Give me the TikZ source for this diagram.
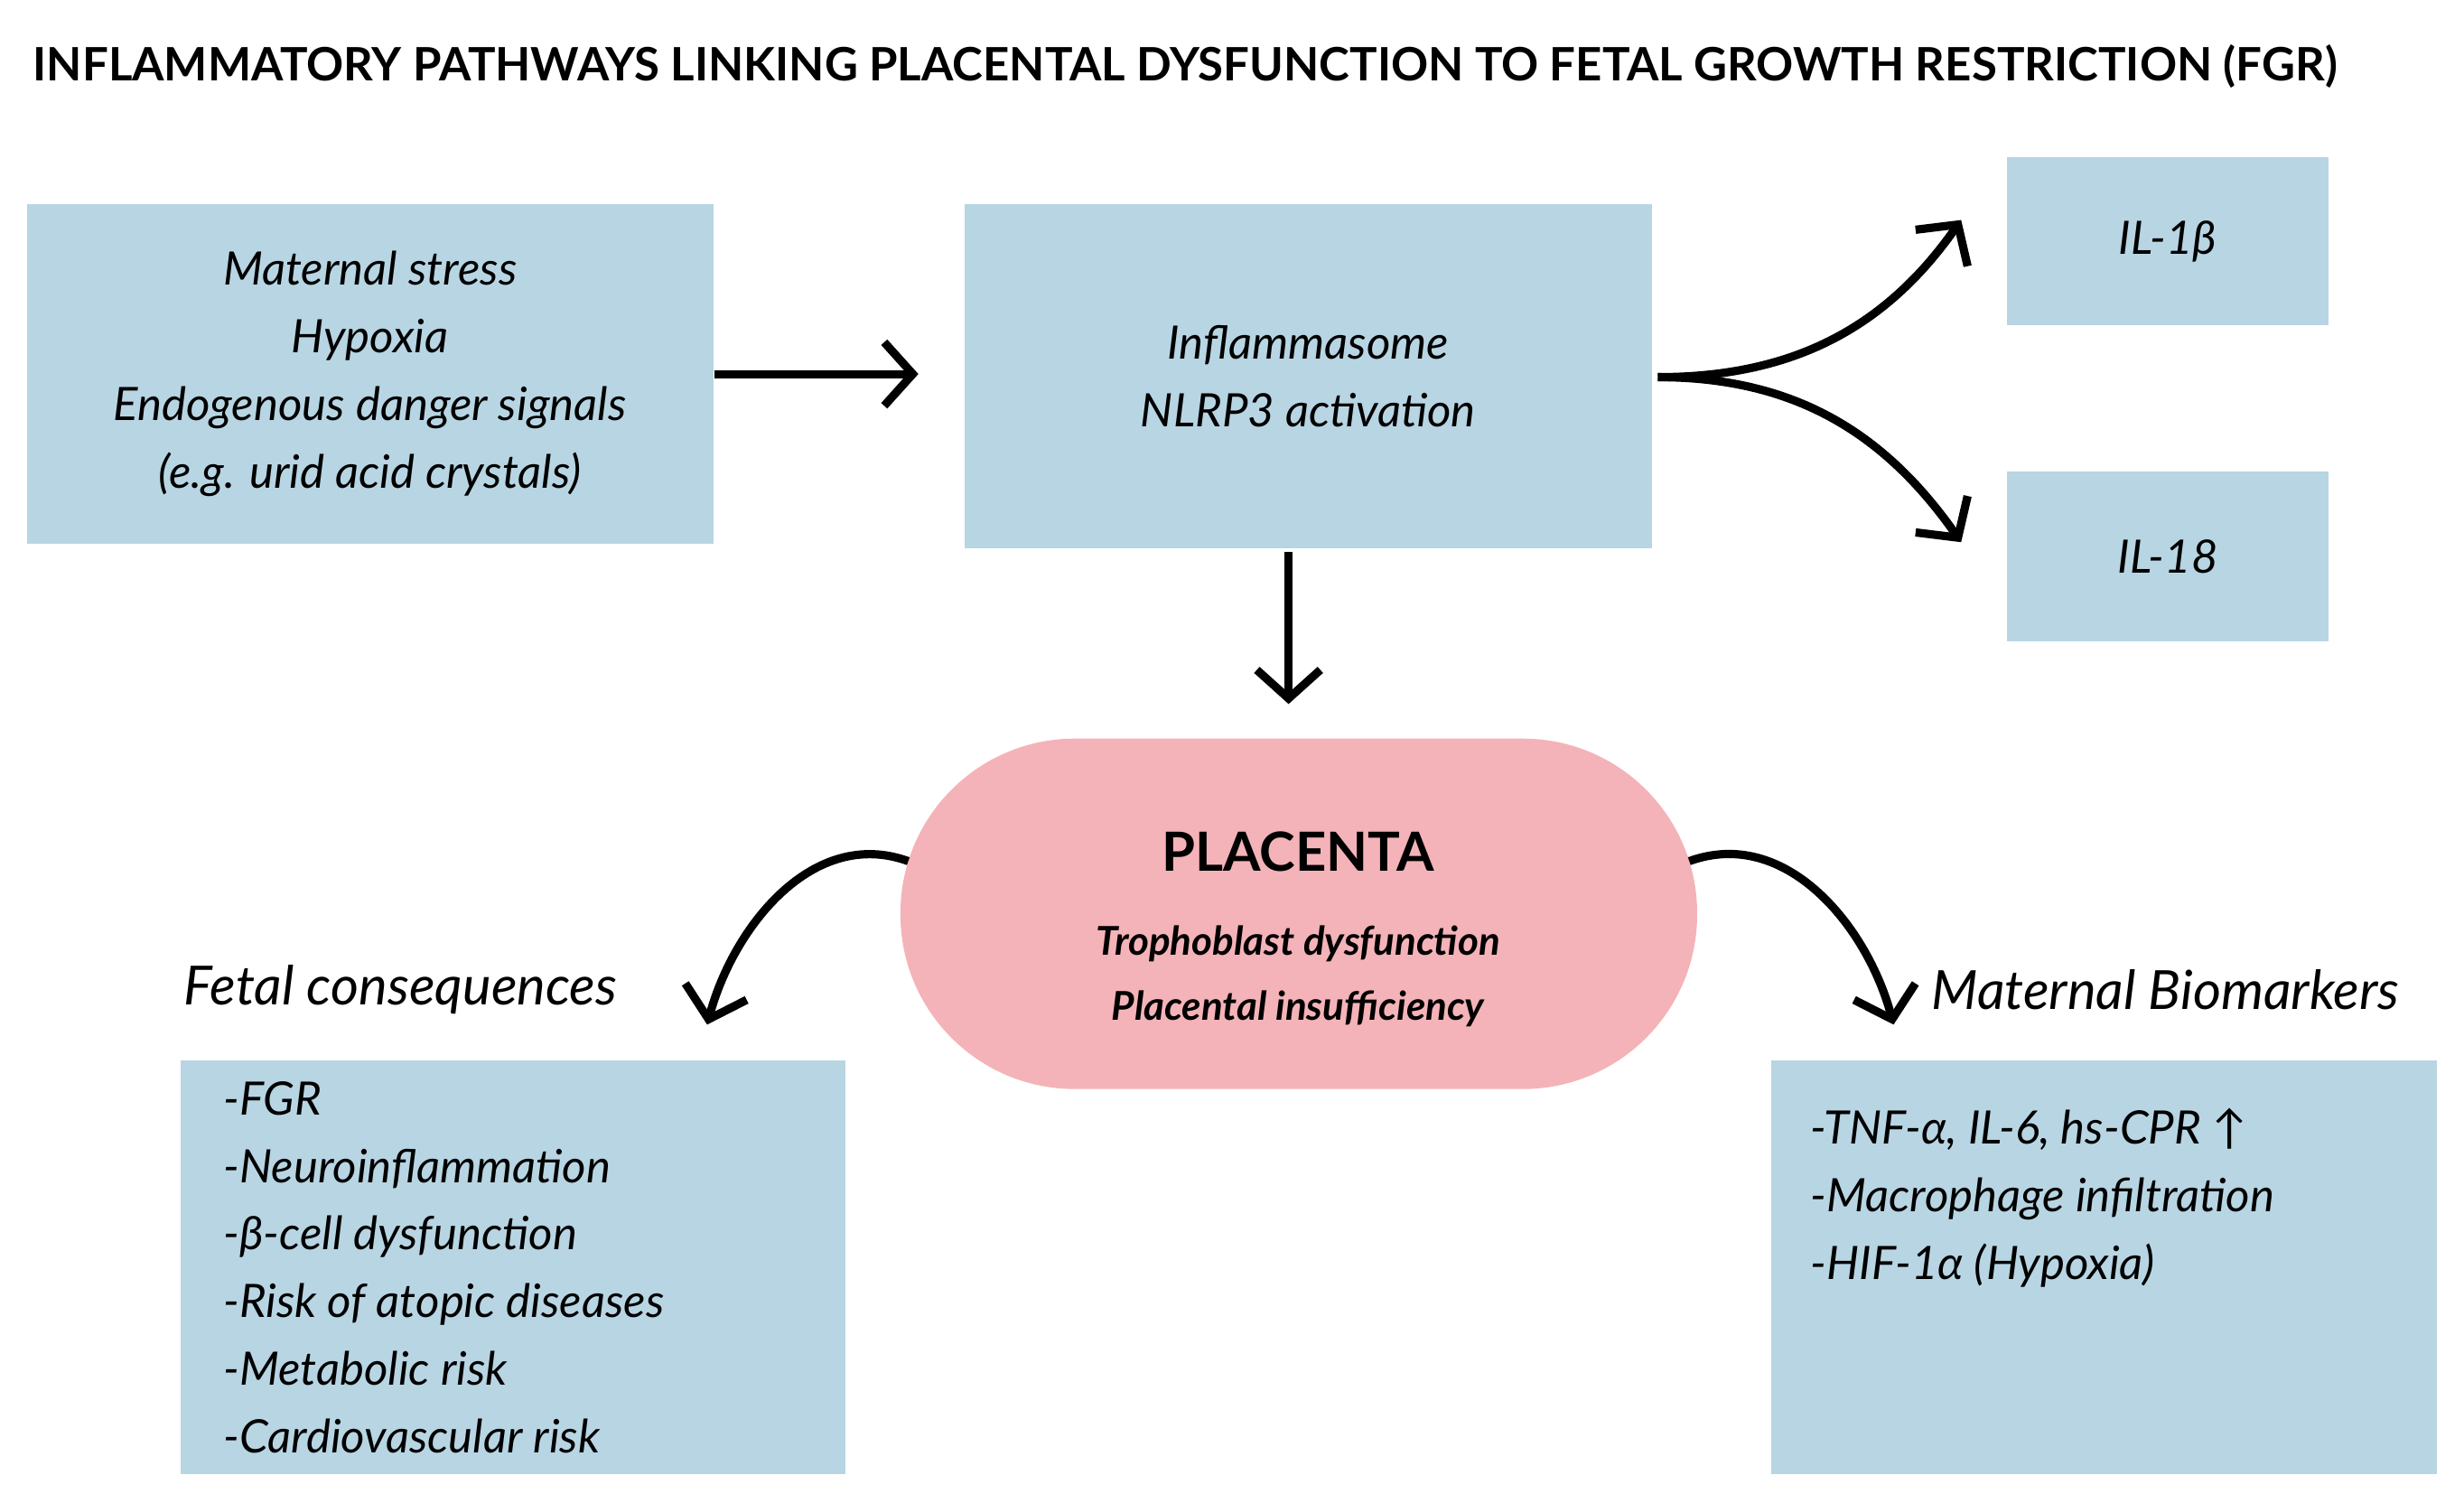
\documentclass[tikz,border=0pt]{standalone}
\usepackage{fontspec}
\setmainfont{Lato}
\usetikzlibrary{arrows.meta,positioning}
\definecolor{boxblue}{HTML}{B8D5E3}
\definecolor{pillpink}{HTML}{F4B3B8}
\begin{document}
\begin{tikzpicture}[x=0.0174cm,y=-0.0174cm,
    >={Straight Barb[length=9pt,width=20pt,line width=2.6pt]},
    every node/.style={font=\fontsize{14.5}{21.3}\selectfont\itshape},
    box/.style={fill=boxblue,draw=none,inner sep=0pt},
    arr/.style={->,line width=2.6pt}]
  \useasboundingbox (0,0) rectangle (1568,956);

  \node[anchor=west,font=\fontsize{14.5}{18}\selectfont\bfseries] (title) at (14,42)
    {INFLAMMATORY PATHWAYS LINKING PLACENTAL DYSFUNCTION TO FETAL GROWTH RESTRICTION (FGR)};

  \node[box,minimum width=437*0.0174cm,minimum height=216*0.0174cm,align=center] (trig) at (235.5,238)
    {Maternal stress\\Hypoxia\\Endogenous danger signals\\(e.g. urid acid crystals)};
  \node[box,minimum width=437*0.0174cm,minimum height=219*0.0174cm,align=center] (nlrp) at (832.5,239.5)
    {Inflammasome\\NLRP3 activation};
  \node[box,minimum width=205*0.0174cm,minimum height=107*0.0174cm] (ilb) at (1379.5,153.5) {IL-1β};
  \node[box,minimum width=205*0.0174cm,minimum height=108*0.0174cm] (ilc) at (1379.5,354) {IL-18};

  \node[fill=pillpink,rounded corners=111*0.0174cm,minimum width=507*0.0174cm,
        minimum height=223*0.0174cm,align=center] (plac) at (826.5,581.5)
    {\vphantom{x}};
  \node[font=\fontsize{17}{20}\selectfont\bfseries] (plact) at (826,542) {PLACENTA};
  \node[font=\fontsize{12.5}{20.5}\selectfont\bfseries\itshape,align=center,below=10pt of plact] (placs)
    {Trophoblast dysfunction\\Placental insufficiency};

  \node[font=\fontsize{17}{20}\selectfont\itshape,anchor=west] (fetal) at (110,630) {Fetal consequences};
  \node[font=\fontsize{17}{20}\selectfont\itshape,anchor=west] (mat) at (1222,630) {Maternal Biomarkers};

  \node[box,minimum width=423*0.0174cm,minimum height=263*0.0174cm] (fbox) at (326.5,806.5) {};
  \node[anchor=north west,align=left] (flist) at (135,681)
    {-FGR\\-Neuroinflammation\\-β-cell dysfunction\\-Risk of atopic diseases\\-Metabolic risk\\-Cardiovascular risk};
  \node[box,minimum width=424*0.0174cm,minimum height=263*0.0174cm] (mbox) at (1339,806.5) {};
  \node[anchor=north west,align=left] (mlist) at (1145,698)
    {-TNF-α, IL-6, hs-CPR ↑\\-Macrophage infiltration\\-HIF-1α (Hypoxia)};

  \coordinate (fork) at (1055,240);
  \draw[arr] (trig.east) -- ++(130,0) coordinate (a1);
  \draw[arr] (fork) to[out=0,in=235] (1248,140);
  \draw[arr] (fork) to[out=0,in=125] (1248,345);
  \draw[arr] (nlrp.south -| 820,0) ++(0,2) -- (820,448);
  \draw[arr] (578,548) to[out=160,in=75] (450,652);
  \draw[arr] (1075,548) to[out=20,in=105] (1205,652);
\end{tikzpicture}
\end{document}
